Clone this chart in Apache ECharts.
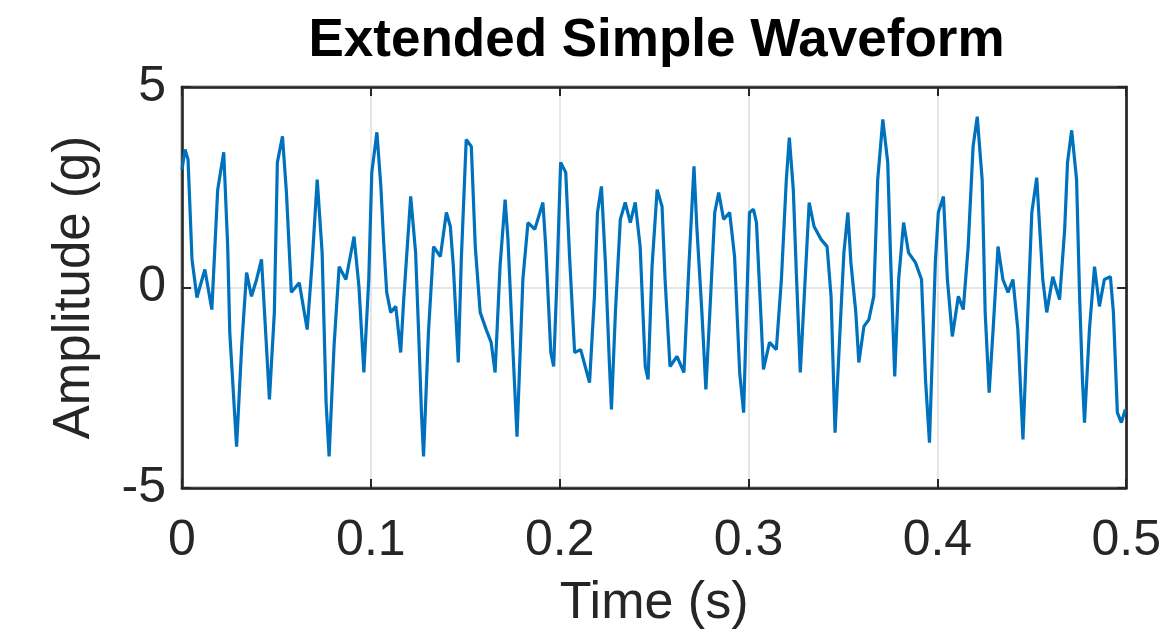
<!DOCTYPE html>
<html>
<head>
<meta charset="utf-8">
<script src="https://cdn.jsdelivr.net/npm/echarts@6/dist/echarts.min.js"></script>
<style>
  html, body { margin: 0; padding: 0; background: #fff; }
  #chart { width: 1164px; height: 638px; }
</style>
</head>
<body>
<div id="chart"></div>
<script>
// Sampled waveform: time (s) and acceleration amplitude (g)
const time = [
  0, .0016, .0032, .0053, .0079, .0121, .0158, .0189, .0221, .0242, .0253, .0289, .0316, .0342, .0368, .0395, .0421, .0437, .0463, .0489,
  .0505, .0532, .0553, .0579, .0621, .0663, .0689, .0716, .0742, .0763, .0779, .0805, .0832, .0868, .0911, .0937, .0963, .0989,
  .1005, .1032, .1053, .1068, .1084, .1105, .1132, .1158, .1174, .1211, .1237, .1253, .1268, .1279, .1305, .1332, .1368, .1400,
  .1421, .1437, .1463, .1479, .1505, .1532, .1553, .1579, .1611, .1637, .1658, .1684, .1711, .1726, .1753, .1774, .1805, .1832,
  .1868, .1911, .1926, .1953, .1968, .1984, .2005, .2032, .2053, .2079, .2111, .2158, .2184, .2200, .2221, .2242, .2263, .2274,
  .2295, .2321, .2347, .2374, .2400, .2426, .2453, .2468, .2489, .2516, .2542, .2558, .2584, .2621, .2658, .2684, .2711, .2726,
  .2753, .2774, .2795, .2821, .2842, .2868, .2900, .2926, .2953, .2974, .2989, .3005, .3026, .3042, .3058, .3079, .3111, .3147,
  .3174, .3200, .3216, .3237, .3253, .3274, .3295, .3321, .3347, .3384, .3416, .3437, .3458, .3489, .3505, .3526, .3542, .3568,
  .3584, .3611, .3637, .3663, .3684, .3711, .3737, .3753, .3774, .3795, .3821, .3847, .3884, .3916, .3937, .3958, .3989, .4005,
  .4032, .4053, .4079, .4111, .4137, .4163, .4189, .4211, .4237, .4253, .4274, .4295, .4321, .4347, .4374, .4400, .4426, .4453,
  .4479, .4500, .4526, .4542, .4558, .4579, .4611, .4647, .4674, .4689, .4711, .4737, .4753, .4768, .4779, .4805, .4832, .4858,
  .4884, .4916, .4932, .4953, .4974, .4995
];
const amplitude = [
  2.94, 3.44, 3.19, 0.70, -0.25, 0.45, -0.55, 2.44, 3.37, 1.02, -1.12, -3.97, -1.47, 0.37, -0.22, 0.20, 0.70, -0.62, -2.79, -0.62,
  3.12, 3.77, 2.37, -0.12, 0.12, -1.05, 0.62, 2.69, 0.87, -2.87, -4.21, -1.47, 0.52, 0.20, 1.27, 0.02, -2.12, 0.20,
  2.87, 3.87, 2.52, 1.12, -0.12, -0.62, -0.47, -1.62, -0.30, 2.27, 0.87, -1.12, -3.12, -4.21, -1.12, 1.02, 0.77, 1.87,
  1.52, 0.52, -1.87, 0.70, 3.69, 3.52, 1.02, -0.62, -1.05, -1.37, -2.12, 0.52, 2.19, 1.20, -1.62, -3.72, 0.20, 1.62,
  1.45, 2.12, 1.02, -1.62, -1.97, 0.02, 3.12, 2.87, 0.70, -1.62, -1.55, -2.37, -0.22, 1.87, 2.52, 0.62, -1.87, -3.04,
  -0.62, 1.70, 2.12, 1.62, 2.12, 1.02, -1.97, -2.29, 0.52, 2.44, 2.02, 0.20, -1.97, -1.72, -2.12, 0.52, 3.02, 1.52,
  -0.62, -2.54, -0.62, 1.87, 2.37, 1.70, 1.87, 0.77, -2.12, -3.12, -0.62, 1.87, 1.95, 1.62, 0.02, -2.04, -1.37, -1.55,
  0.20, 2.69, 3.74, 2.44, 0.37, -2.12, -0.22, 2.12, 1.52, 1.20, 1.02, -0.22, -3.62, -0.62, 0.87, 1.87, 0.62, -0.62,
  -1.87, -0.97, -0.80, -0.22, 2.69, 4.19, 3.12, 0.62, -2.22, 0.20, 1.62, 0.87, 0.62, 0.20, -2.29, -3.87, 0.62, 1.87,
  2.27, 0.20, -1.22, -0.22, -0.55, 1.02, 3.52, 4.26, 2.69, -0.62, -2.62, -1.05, 1.02, 0.20, -0.12, 0.20, -1.05, -3.79,
  -0.62, 1.87, 2.74, 1.45, 0.20, -0.62, 0.27, -0.30, 1.45, 3.12, 3.92, 2.69, -0.22, -2.29, -3.37, -1.05, 0.52, -0.47,
  0.20, 0.27, -0.62, -3.12, -3.37, -3.04
];
const xTicks = [0, 0.1, 0.2, 0.3, 0.4, 0.5];
const yTicks = [-5, 0, 5];
const titleText = 'Extended Simple Waveform';
const xName = 'Time (s)';
const yName = 'Amplitude (g)';

const points = [];
for (let i = 0; i < Math.min(time.length, amplitude.length); i++) {
  points.push([time[i], amplitude[i]]);
}

const FONT = 'Liberation Sans, Arial, Helvetica, sans-serif';
const INK = '#262626';
const GRID_LEFT = 182, GRID_TOP = 87, GRID_RIGHT = 33, GRID_BOTTOM = 150;

const chart = echarts.init(document.getElementById('chart'), null, { renderer: 'canvas' });

const baseX = {
  type: 'value',
  min: xTicks[0],
  max: xTicks[xTicks.length - 1],
  interval: 0.1
};
const baseY = {
  type: 'value',
  min: yTicks[0],
  max: yTicks[yTicks.length - 1],
  interval: 5
};
const tickStyle = { show: true, inside: true, length: 9, lineStyle: { color: INK, width: 2 } };
const frameLine = { show: true, onZero: false, lineStyle: { color: INK, width: 2.5 } };

chart.setOption({
  backgroundColor: '#ffffff',
  animation: false,
  graphic: [{
    type: 'text',
    x: GRID_LEFT + (1164 - GRID_LEFT - GRID_RIGHT) / 2,
    y: 41,
    style: {
      text: titleText,
      fill: '#000',
      font: 'bold 53px ' + FONT,
      align: 'center',
      verticalAlign: 'middle'
    }
  }],
  grid: {
    left: GRID_LEFT, top: GRID_TOP, right: GRID_RIGHT, bottom: GRID_BOTTOM,
    show: true, borderColor: INK, borderWidth: 2.5, backgroundColor: '#fff'
  },
  xAxis: [
    Object.assign({}, baseX, {
      position: 'bottom',
      name: xName,
      nameLocation: 'middle',
      nameGap: 90,
      nameTextStyle: { color: INK, fontSize: 52, fontFamily: FONT },
      axisLine: frameLine,
      axisTick: tickStyle,
      axisLabel: {
        color: INK, fontSize: 50, fontFamily: FONT, margin: 28,
        formatter: v => String(Math.round(v * 10) / 10)
      },
      splitLine: { show: true, lineStyle: { color: '#dedede', width: 1.5 } }
    }),
    Object.assign({}, baseX, {
      position: 'top',
      axisLine: frameLine,
      axisTick: tickStyle,
      axisLabel: { show: false },
      splitLine: { show: false }
    })
  ],
  yAxis: [
    Object.assign({}, baseY, {
      position: 'left',
      name: yName,
      nameLocation: 'middle',
      nameGap: 82,
      nameTextStyle: { color: INK, fontSize: 51, fontFamily: FONT },
      axisLine: frameLine,
      axisTick: tickStyle,
      axisLabel: { color: INK, fontSize: 50, fontFamily: FONT, margin: 16 },
      splitLine: { show: true, lineStyle: { color: '#dedede', width: 1.5 } }
    }),
    Object.assign({}, baseY, {
      position: 'right',
      axisLine: frameLine,
      axisTick: tickStyle,
      axisLabel: { show: false },
      splitLine: { show: false }
    })
  ],
  series: [{
    type: 'line',
    data: points,
    xAxisIndex: 0,
    yAxisIndex: 0,
    showSymbol: false,
    symbol: 'none',
    lineStyle: { color: '#0072BD', width: 3.2 },
    z: 3
  }]
});
</script>
</body>
</html>
